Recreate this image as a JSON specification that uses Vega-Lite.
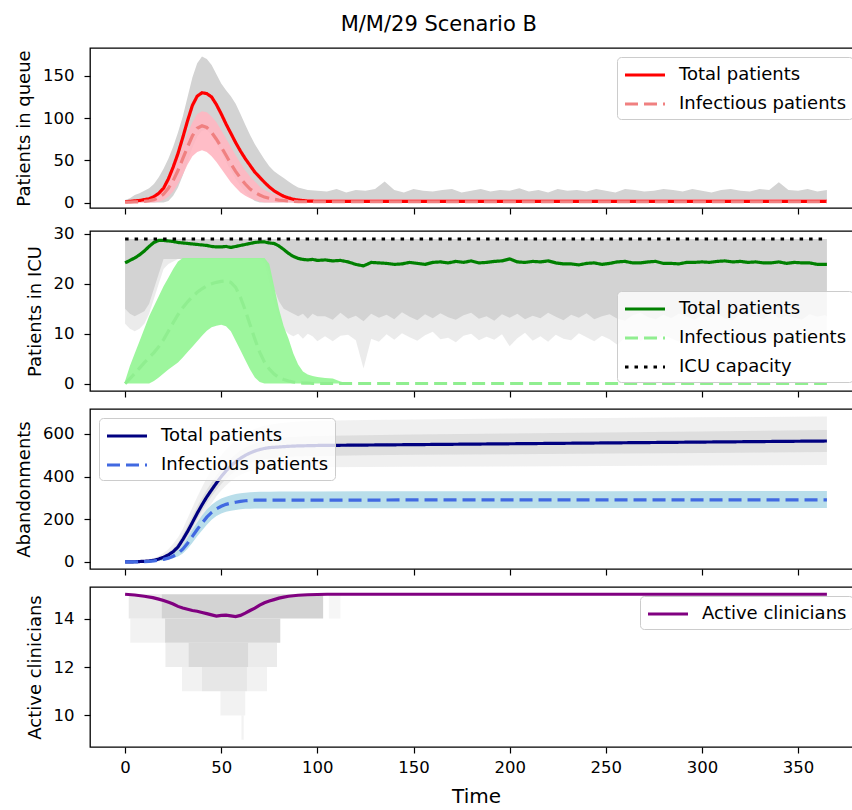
{
  "$schema": "https://vega.github.io/schema/vega-lite/v6.json",
  "padding": {"left": 14, "top": 14, "right": -9, "bottom": 0},
  "title": {"text": "M/M/29 Scenario B", "fontSize": 21, "fontWeight": "normal", "font": "DejaVu Sans", "color": "black", "anchor": "middle", "frame": "bounds", "offset": 12},
  "datasets": {
    "queue": [
      {"t":0,"Total patients":1,"Infectious patients":0.5,"g_lo":0,"g_hi":3,"p_lo":0,"p_hi":2},
      {"t":2.5,"Total patients":1.5,"Infectious patients":0.6,"g_lo":0,"g_hi":5,"p_lo":0,"p_hi":2.5},
      {"t":5,"Total patients":2,"Infectious patients":0.8,"g_lo":0,"g_hi":9,"p_lo":0,"p_hi":3},
      {"t":7.5,"Total patients":2.5,"Infectious patients":1,"g_lo":0,"g_hi":11,"p_lo":0,"p_hi":3.5},
      {"t":10,"Total patients":3.5,"Infectious patients":1.5,"g_lo":0,"g_hi":14,"p_lo":0,"p_hi":4},
      {"t":12.5,"Total patients":4.5,"Infectious patients":2.2,"g_lo":0,"g_hi":17,"p_lo":0,"p_hi":5.5},
      {"t":15,"Total patients":7,"Infectious patients":3.5,"g_lo":0,"g_hi":22,"p_lo":0,"p_hi":7},
      {"t":17.5,"Total patients":11,"Infectious patients":6,"g_lo":0,"g_hi":30,"p_lo":1,"p_hi":12},
      {"t":20,"Total patients":17,"Infectious patients":10,"g_lo":0,"g_hi":40,"p_lo":3,"p_hi":18},
      {"t":22.5,"Total patients":28,"Infectious patients":17,"g_lo":2,"g_hi":52,"p_lo":7,"p_hi":27},
      {"t":25,"Total patients":42,"Infectious patients":26,"g_lo":8,"g_hi":66,"p_lo":13,"p_hi":38},
      {"t":27.5,"Total patients":58,"Infectious patients":38,"g_lo":18,"g_hi":83,"p_lo":22,"p_hi":52},
      {"t":30,"Total patients":77,"Infectious patients":52,"g_lo":32,"g_hi":102,"p_lo":33,"p_hi":67},
      {"t":32.5,"Total patients":97,"Infectious patients":66,"g_lo":48,"g_hi":125,"p_lo":45,"p_hi":82},
      {"t":35,"Total patients":115,"Infectious patients":79,"g_lo":65,"g_hi":148,"p_lo":55,"p_hi":95},
      {"t":37.5,"Total patients":126,"Infectious patients":88,"g_lo":78,"g_hi":165,"p_lo":60,"p_hi":105},
      {"t":40,"Total patients":130,"Infectious patients":91,"g_lo":85,"g_hi":173,"p_lo":62,"p_hi":108},
      {"t":42.5,"Total patients":129,"Infectious patients":89,"g_lo":86,"g_hi":170,"p_lo":60,"p_hi":107},
      {"t":45,"Total patients":125,"Infectious patients":83,"g_lo":80,"g_hi":163,"p_lo":55,"p_hi":102},
      {"t":47.5,"Total patients":116,"Infectious patients":75,"g_lo":70,"g_hi":152,"p_lo":48,"p_hi":95},
      {"t":50,"Total patients":105,"Infectious patients":66,"g_lo":60,"g_hi":141,"p_lo":40,"p_hi":86},
      {"t":52.5,"Total patients":93,"Infectious patients":56,"g_lo":48,"g_hi":133,"p_lo":32,"p_hi":76},
      {"t":55,"Total patients":82,"Infectious patients":46,"g_lo":38,"g_hi":126,"p_lo":24,"p_hi":66},
      {"t":57.5,"Total patients":71,"Infectious patients":37,"g_lo":28,"g_hi":117,"p_lo":18,"p_hi":56},
      {"t":60,"Total patients":61,"Infectious patients":29,"g_lo":20,"g_hi":105,"p_lo":12,"p_hi":47},
      {"t":62.5,"Total patients":52,"Infectious patients":22,"g_lo":12,"g_hi":92,"p_lo":8,"p_hi":38},
      {"t":65,"Total patients":44,"Infectious patients":16,"g_lo":6,"g_hi":80,"p_lo":5,"p_hi":31},
      {"t":67.5,"Total patients":36,"Infectious patients":12,"g_lo":2,"g_hi":69,"p_lo":3,"p_hi":25},
      {"t":70,"Total patients":30,"Infectious patients":9,"g_lo":0,"g_hi":60,"p_lo":1,"p_hi":19},
      {"t":72.5,"Total patients":24,"Infectious patients":6.5,"g_lo":0,"g_hi":51,"p_lo":0,"p_hi":15},
      {"t":75,"Total patients":18.5,"Infectious patients":5,"g_lo":0,"g_hi":43,"p_lo":0,"p_hi":12},
      {"t":77.5,"Total patients":14,"Infectious patients":4,"g_lo":0,"g_hi":37,"p_lo":0,"p_hi":10},
      {"t":80,"Total patients":10.5,"Infectious patients":3,"g_lo":0,"g_hi":33,"p_lo":0,"p_hi":8},
      {"t":82.5,"Total patients":7.5,"Infectious patients":2.5,"g_lo":0,"g_hi":29,"p_lo":0,"p_hi":7},
      {"t":85,"Total patients":5.5,"Infectious patients":2,"g_lo":0,"g_hi":25,"p_lo":0,"p_hi":6},
      {"t":87.5,"Total patients":4,"Infectious patients":1.6,"g_lo":0,"g_hi":21,"p_lo":0,"p_hi":5.5},
      {"t":90,"Total patients":3,"Infectious patients":1.2,"g_lo":0,"g_hi":18,"p_lo":0,"p_hi":5},
      {"t":95,"Total patients":1.8,"Infectious patients":1,"g_lo":0,"g_hi":15,"p_lo":0,"p_hi":4.5},
      {"t":100,"Total patients":1.5,"Infectious patients":1,"g_lo":0,"g_hi":14,"p_lo":0,"p_hi":4},
      {"t":105,"Total patients":1.5,"Infectious patients":1,"g_lo":0,"g_hi":13,"p_lo":0,"p_hi":4},
      {"t":110,"Total patients":1.5,"Infectious patients":1,"g_lo":0,"g_hi":16,"p_lo":0,"p_hi":4},
      {"t":115,"Total patients":1.5,"Infectious patients":1,"g_lo":0,"g_hi":12,"p_lo":0,"p_hi":4},
      {"t":120,"Total patients":1.5,"Infectious patients":1,"g_lo":0,"g_hi":15,"p_lo":0,"p_hi":4},
      {"t":125,"Total patients":1.5,"Infectious patients":1,"g_lo":0,"g_hi":14,"p_lo":0,"p_hi":4},
      {"t":130,"Total patients":1.5,"Infectious patients":1,"g_lo":0,"g_hi":16,"p_lo":0,"p_hi":4},
      {"t":135,"Total patients":1.5,"Infectious patients":1,"g_lo":0,"g_hi":25,"p_lo":0,"p_hi":4},
      {"t":140,"Total patients":1.5,"Infectious patients":1,"g_lo":0,"g_hi":15,"p_lo":0,"p_hi":4},
      {"t":145,"Total patients":1.5,"Infectious patients":1,"g_lo":0,"g_hi":12,"p_lo":0,"p_hi":4},
      {"t":150,"Total patients":1.5,"Infectious patients":1,"g_lo":0,"g_hi":16,"p_lo":0,"p_hi":4},
      {"t":155,"Total patients":1.5,"Infectious patients":1,"g_lo":0,"g_hi":14,"p_lo":0,"p_hi":4},
      {"t":160,"Total patients":1.5,"Infectious patients":1,"g_lo":0,"g_hi":13,"p_lo":0,"p_hi":4},
      {"t":165,"Total patients":1.5,"Infectious patients":1,"g_lo":0,"g_hi":15,"p_lo":0,"p_hi":4},
      {"t":170,"Total patients":1.5,"Infectious patients":1,"g_lo":0,"g_hi":16,"p_lo":0,"p_hi":4},
      {"t":175,"Total patients":1.5,"Infectious patients":1,"g_lo":0,"g_hi":12,"p_lo":0,"p_hi":4},
      {"t":180,"Total patients":1.5,"Infectious patients":1,"g_lo":0,"g_hi":14,"p_lo":0,"p_hi":4},
      {"t":185,"Total patients":1.5,"Infectious patients":1,"g_lo":0,"g_hi":16,"p_lo":0,"p_hi":4},
      {"t":190,"Total patients":1.5,"Infectious patients":1,"g_lo":0,"g_hi":13,"p_lo":0,"p_hi":4},
      {"t":195,"Total patients":1.5,"Infectious patients":1,"g_lo":0,"g_hi":15,"p_lo":0,"p_hi":4},
      {"t":200,"Total patients":1.5,"Infectious patients":1,"g_lo":0,"g_hi":14,"p_lo":0,"p_hi":4},
      {"t":205,"Total patients":1.5,"Infectious patients":1,"g_lo":0,"g_hi":17,"p_lo":0,"p_hi":4},
      {"t":210,"Total patients":1.5,"Infectious patients":1,"g_lo":0,"g_hi":13,"p_lo":0,"p_hi":4},
      {"t":215,"Total patients":1.5,"Infectious patients":1,"g_lo":0,"g_hi":15,"p_lo":0,"p_hi":4},
      {"t":220,"Total patients":1.5,"Infectious patients":1,"g_lo":0,"g_hi":12,"p_lo":0,"p_hi":4},
      {"t":225,"Total patients":1.5,"Infectious patients":1,"g_lo":0,"g_hi":16,"p_lo":0,"p_hi":4},
      {"t":230,"Total patients":1.5,"Infectious patients":1,"g_lo":0,"g_hi":14,"p_lo":0,"p_hi":4},
      {"t":235,"Total patients":1.5,"Infectious patients":1,"g_lo":0,"g_hi":15,"p_lo":0,"p_hi":4},
      {"t":240,"Total patients":1.5,"Infectious patients":1,"g_lo":0,"g_hi":13,"p_lo":0,"p_hi":4},
      {"t":245,"Total patients":1.5,"Infectious patients":1,"g_lo":0,"g_hi":16,"p_lo":0,"p_hi":4},
      {"t":250,"Total patients":1.5,"Infectious patients":1,"g_lo":0,"g_hi":14,"p_lo":0,"p_hi":4},
      {"t":255,"Total patients":1.5,"Infectious patients":1,"g_lo":0,"g_hi":12,"p_lo":0,"p_hi":4},
      {"t":260,"Total patients":1.5,"Infectious patients":1,"g_lo":0,"g_hi":16,"p_lo":0,"p_hi":4},
      {"t":265,"Total patients":1.5,"Infectious patients":1,"g_lo":0,"g_hi":15,"p_lo":0,"p_hi":4},
      {"t":270,"Total patients":1.5,"Infectious patients":1,"g_lo":0,"g_hi":13,"p_lo":0,"p_hi":4},
      {"t":275,"Total patients":1.5,"Infectious patients":1,"g_lo":0,"g_hi":14,"p_lo":0,"p_hi":4},
      {"t":280,"Total patients":1.5,"Infectious patients":1,"g_lo":0,"g_hi":16,"p_lo":0,"p_hi":4},
      {"t":285,"Total patients":1.5,"Infectious patients":1,"g_lo":0,"g_hi":15,"p_lo":0,"p_hi":4},
      {"t":290,"Total patients":1.5,"Infectious patients":1,"g_lo":0,"g_hi":13,"p_lo":0,"p_hi":4},
      {"t":295,"Total patients":1.5,"Infectious patients":1,"g_lo":0,"g_hi":16,"p_lo":0,"p_hi":4},
      {"t":300,"Total patients":1.5,"Infectious patients":1,"g_lo":0,"g_hi":14,"p_lo":0,"p_hi":4},
      {"t":305,"Total patients":1.5,"Infectious patients":1,"g_lo":0,"g_hi":12,"p_lo":0,"p_hi":4},
      {"t":310,"Total patients":1.5,"Infectious patients":1,"g_lo":0,"g_hi":15,"p_lo":0,"p_hi":4},
      {"t":315,"Total patients":1.5,"Infectious patients":1,"g_lo":0,"g_hi":16,"p_lo":0,"p_hi":4},
      {"t":320,"Total patients":1.5,"Infectious patients":1,"g_lo":0,"g_hi":14,"p_lo":0,"p_hi":4},
      {"t":325,"Total patients":1.5,"Infectious patients":1,"g_lo":0,"g_hi":13,"p_lo":0,"p_hi":4},
      {"t":330,"Total patients":1.5,"Infectious patients":1,"g_lo":0,"g_hi":16,"p_lo":0,"p_hi":4},
      {"t":335,"Total patients":1.5,"Infectious patients":1,"g_lo":0,"g_hi":15,"p_lo":0,"p_hi":4},
      {"t":340,"Total patients":1.5,"Infectious patients":1,"g_lo":0,"g_hi":24,"p_lo":0,"p_hi":4},
      {"t":345,"Total patients":1.5,"Infectious patients":1,"g_lo":0,"g_hi":15,"p_lo":0,"p_hi":4},
      {"t":350,"Total patients":1.5,"Infectious patients":1,"g_lo":0,"g_hi":14,"p_lo":0,"p_hi":4},
      {"t":355,"Total patients":1.5,"Infectious patients":1,"g_lo":0,"g_hi":16,"p_lo":0,"p_hi":4},
      {"t":360,"Total patients":1.5,"Infectious patients":1,"g_lo":0,"g_hi":13,"p_lo":0,"p_hi":4},
      {"t":365,"Total patients":1.5,"Infectious patients":1,"g_lo":0,"g_hi":15,"p_lo":0,"p_hi":4}
    ],
    "icu": [
      {"t":0,"Total patients":24.2,"Infectious patients":0,"ICU capacity":29,"g_lo":15,"g_lo2":12,"c_lo":0,"c_hi":0.5},
      {"t":2.5,"Total patients":24.7,"Infectious patients":1,"ICU capacity":29,"g_lo":14,"g_lo2":11,"c_lo":0,"c_hi":3.5},
      {"t":5,"Total patients":25.2,"Infectious patients":2,"ICU capacity":29,"g_lo":13.5,"g_lo2":10.5,"c_lo":0,"c_hi":6},
      {"t":7.5,"Total patients":25.8,"Infectious patients":3.1,"ICU capacity":29,"g_lo":14,"g_lo2":11,"c_lo":0,"c_hi":8.5},
      {"t":10,"Total patients":26.6,"Infectious patients":4.2,"ICU capacity":29,"g_lo":14.5,"g_lo2":12,"c_lo":0,"c_hi":11},
      {"t":12.5,"Total patients":27.5,"Infectious patients":5.2,"ICU capacity":29,"g_lo":16,"g_lo2":14,"c_lo":0,"c_hi":13.5},
      {"t":15,"Total patients":28.3,"Infectious patients":6.2,"ICU capacity":29,"g_lo":19,"g_lo2":17,"c_lo":0.5,"c_hi":15.5},
      {"t":17.5,"Total patients":28.7,"Infectious patients":7.4,"ICU capacity":29,"g_lo":22,"g_lo2":20,"c_lo":1.2,"c_hi":17.5},
      {"t":20,"Total patients":28.7,"Infectious patients":8.8,"ICU capacity":29,"g_lo":25,"g_lo2":23,"c_lo":2,"c_hi":19.5},
      {"t":22.5,"Total patients":28.6,"Infectious patients":10.5,"ICU capacity":29,"g_lo":25,"g_lo2":24,"c_lo":2.8,"c_hi":21.2},
      {"t":25,"Total patients":28.5,"Infectious patients":12.2,"ICU capacity":29,"g_lo":25,"g_lo2":24.5,"c_lo":3.5,"c_hi":23},
      {"t":27.5,"Total patients":28.3,"Infectious patients":13.8,"ICU capacity":29,"g_lo":25,"g_lo2":25,"c_lo":4.2,"c_hi":24.5},
      {"t":30,"Total patients":28.2,"Infectious patients":15.2,"ICU capacity":29,"g_lo":25,"g_lo2":25,"c_lo":5.2,"c_hi":25.2},
      {"t":32.5,"Total patients":28.1,"Infectious patients":16.4,"ICU capacity":29,"g_lo":25,"g_lo2":25,"c_lo":6.3,"c_hi":25.2},
      {"t":35,"Total patients":28.0,"Infectious patients":17.4,"ICU capacity":29,"g_lo":25,"g_lo2":25,"c_lo":7.4,"c_hi":25.2},
      {"t":37.5,"Total patients":27.9,"Infectious patients":18.3,"ICU capacity":29,"g_lo":25,"g_lo2":25,"c_lo":8.5,"c_hi":25.2},
      {"t":40,"Total patients":27.8,"Infectious patients":19.0,"ICU capacity":29,"g_lo":25,"g_lo2":25,"c_lo":9.6,"c_hi":25.2},
      {"t":42.5,"Total patients":27.7,"Infectious patients":19.6,"ICU capacity":29,"g_lo":25,"g_lo2":25,"c_lo":10.6,"c_hi":25.2},
      {"t":45,"Total patients":27.5,"Infectious patients":20.0,"ICU capacity":29,"g_lo":25,"g_lo2":25,"c_lo":11.3,"c_hi":25.2},
      {"t":47.5,"Total patients":27.4,"Infectious patients":20.3,"ICU capacity":29,"g_lo":25,"g_lo2":25,"c_lo":11.6,"c_hi":25.2},
      {"t":50,"Total patients":27.4,"Infectious patients":20.5,"ICU capacity":29,"g_lo":25,"g_lo2":25,"c_lo":11.8,"c_hi":25.2},
      {"t":52.5,"Total patients":27.5,"Infectious patients":20.6,"ICU capacity":29,"g_lo":25,"g_lo2":25,"c_lo":11.5,"c_hi":25.2},
      {"t":55,"Total patients":27.3,"Infectious patients":20.3,"ICU capacity":29,"g_lo":25,"g_lo2":25,"c_lo":10.5,"c_hi":25.2},
      {"t":57.5,"Total patients":27.5,"Infectious patients":19.3,"ICU capacity":29,"g_lo":25,"g_lo2":25,"c_lo":8.6,"c_hi":25.2},
      {"t":60,"Total patients":27.7,"Infectious patients":17.3,"ICU capacity":29,"g_lo":25,"g_lo2":25,"c_lo":6.7,"c_hi":25.2},
      {"t":62.5,"Total patients":27.9,"Infectious patients":14.7,"ICU capacity":29,"g_lo":25,"g_lo2":25,"c_lo":4.7,"c_hi":25.2},
      {"t":65,"Total patients":28.1,"Infectious patients":11.8,"ICU capacity":29,"g_lo":25,"g_lo2":25,"c_lo":2.8,"c_hi":25.2},
      {"t":67.5,"Total patients":28.3,"Infectious patients":8.9,"ICU capacity":29,"g_lo":25,"g_lo2":25,"c_lo":1.2,"c_hi":25.2},
      {"t":70,"Total patients":28.4,"Infectious patients":6.3,"ICU capacity":29,"g_lo":25,"g_lo2":25,"c_lo":0.3,"c_hi":25.2},
      {"t":72.5,"Total patients":28.4,"Infectious patients":4.3,"ICU capacity":29,"g_lo":25,"g_lo2":24,"c_lo":0,"c_hi":25.2},
      {"t":75,"Total patients":28.2,"Infectious patients":2.9,"ICU capacity":29,"g_lo":22,"g_lo2":20,"c_lo":0,"c_hi":24},
      {"t":77.5,"Total patients":28.1,"Infectious patients":1.9,"ICU capacity":29,"g_lo":19,"g_lo2":16,"c_lo":0,"c_hi":19.5},
      {"t":80,"Total patients":27.6,"Infectious patients":1.2,"ICU capacity":29,"g_lo":16.5,"g_lo2":13,"c_lo":0,"c_hi":15},
      {"t":82.5,"Total patients":26.9,"Infectious patients":0.8,"ICU capacity":29,"g_lo":15,"g_lo2":11,"c_lo":0,"c_hi":11.5},
      {"t":85,"Total patients":26.1,"Infectious patients":0.5,"ICU capacity":29,"g_lo":14.5,"g_lo2":10,"c_lo":0,"c_hi":9},
      {"t":87.5,"Total patients":25.5,"Infectious patients":0.3,"ICU capacity":29,"g_lo":14,"g_lo2":9.5,"c_lo":0,"c_hi":6},
      {"t":90,"Total patients":25.1,"Infectious patients":0.2,"ICU capacity":29,"g_lo":13.5,"g_lo2":10,"c_lo":0,"c_hi":3.8},
      {"t":92.5,"Total patients":24.9,"Infectious patients":0.1,"ICU capacity":29,"g_lo":14,"g_lo2":9,"c_lo":0,"c_hi":2.4},
      {"t":95,"Total patients":24.8,"Infectious patients":0.1,"ICU capacity":29,"g_lo":13,"g_lo2":10,"c_lo":0,"c_hi":1.8},
      {"t":97.5,"Total patients":24.9,"Infectious patients":0,"ICU capacity":29,"g_lo":14,"g_lo2":9.5,"c_lo":0,"c_hi":1.5},
      {"t":100,"Total patients":24.7,"Infectious patients":0,"ICU capacity":29,"g_lo":13.5,"g_lo2":8.5,"c_lo":0,"c_hi":1.3},
      {"t":104,"Total patients":24.8,"Infectious patients":0,"ICU capacity":29,"g_lo":13.5,"g_lo2":9.5,"c_lo":0,"c_hi":1.1},
      {"t":108,"Total patients":24.6,"Infectious patients":0,"ICU capacity":29,"g_lo":12.8,"g_lo2":8.5,"c_lo":0,"c_hi":1.0},
      {"t":112,"Total patients":24.7,"Infectious patients":0,"ICU capacity":29,"g_lo":14.2,"g_lo2":9.6,"c_lo":0,"c_hi":0.4},
      {"t":116,"Total patients":24.4,"Infectious patients":0,"ICU capacity":29,"g_lo":13.0,"g_lo2":9.8,"c_lo":0,"c_hi":0},
      {"t":120,"Total patients":23.9,"Infectious patients":0,"ICU capacity":29,"g_lo":13.6,"g_lo2":8.7,"c_lo":0,"c_hi":0},
      {"t":124,"Total patients":23.6,"Infectious patients":0,"ICU capacity":29,"g_lo":12.5,"g_lo2":3,"c_lo":0,"c_hi":0},
      {"t":128,"Total patients":24.3,"Infectious patients":0,"ICU capacity":29,"g_lo":14.0,"g_lo2":9.0,"c_lo":0,"c_hi":0},
      {"t":132,"Total patients":24.2,"Infectious patients":0,"ICU capacity":29,"g_lo":13.2,"g_lo2":8.4,"c_lo":0,"c_hi":0},
      {"t":136,"Total patients":24.1,"Infectious patients":0,"ICU capacity":29,"g_lo":13.8,"g_lo2":9.9,"c_lo":0,"c_hi":0},
      {"t":140,"Total patients":23.9,"Infectious patients":0,"ICU capacity":29,"g_lo":12.9,"g_lo2":8.8,"c_lo":0,"c_hi":0},
      {"t":144,"Total patients":24.0,"Infectious patients":0,"ICU capacity":29,"g_lo":14.3,"g_lo2":10.1,"c_lo":0,"c_hi":0},
      {"t":148,"Total patients":24.3,"Infectious patients":0,"ICU capacity":29,"g_lo":13.4,"g_lo2":9.3,"c_lo":0,"c_hi":0},
      {"t":152,"Total patients":24.1,"Infectious patients":0,"ICU capacity":29,"g_lo":12.7,"g_lo2":8.6,"c_lo":0,"c_hi":0},
      {"t":156,"Total patients":23.9,"Infectious patients":0,"ICU capacity":29,"g_lo":13.9,"g_lo2":9.7,"c_lo":0,"c_hi":0},
      {"t":160,"Total patients":24.3,"Infectious patients":0,"ICU capacity":29,"g_lo":13.1,"g_lo2":10.4,"c_lo":0,"c_hi":0},
      {"t":164,"Total patients":24.4,"Infectious patients":0,"ICU capacity":29,"g_lo":14.1,"g_lo2":8.9,"c_lo":0,"c_hi":0},
      {"t":168,"Total patients":24.2,"Infectious patients":0,"ICU capacity":29,"g_lo":13.3,"g_lo2":9.2,"c_lo":0,"c_hi":0},
      {"t":172,"Total patients":24.5,"Infectious patients":0,"ICU capacity":29,"g_lo":12.8,"g_lo2":8.3,"c_lo":0,"c_hi":0},
      {"t":176,"Total patients":24.3,"Infectious patients":0,"ICU capacity":29,"g_lo":13.7,"g_lo2":9.6,"c_lo":0,"c_hi":0},
      {"t":180,"Total patients":24.6,"Infectious patients":0,"ICU capacity":29,"g_lo":14.2,"g_lo2":10.0,"c_lo":0,"c_hi":0},
      {"t":184,"Total patients":24.2,"Infectious patients":0,"ICU capacity":29,"g_lo":13.0,"g_lo2":8.7,"c_lo":0,"c_hi":0},
      {"t":188,"Total patients":24.3,"Infectious patients":0,"ICU capacity":29,"g_lo":13.5,"g_lo2":9.4,"c_lo":0,"c_hi":0},
      {"t":192,"Total patients":24.5,"Infectious patients":0,"ICU capacity":29,"g_lo":12.6,"g_lo2":8.8,"c_lo":0,"c_hi":0},
      {"t":196,"Total patients":24.6,"Infectious patients":0,"ICU capacity":29,"g_lo":13.9,"g_lo2":9.9,"c_lo":0,"c_hi":0},
      {"t":200,"Total patients":25.0,"Infectious patients":0,"ICU capacity":29,"g_lo":13.2,"g_lo2":7.5,"c_lo":0,"c_hi":0},
      {"t":204,"Total patients":24.4,"Infectious patients":0,"ICU capacity":29,"g_lo":14.0,"g_lo2":9.1,"c_lo":0,"c_hi":0},
      {"t":208,"Total patients":24.3,"Infectious patients":0,"ICU capacity":29,"g_lo":12.9,"g_lo2":10.2,"c_lo":0,"c_hi":0},
      {"t":212,"Total patients":24.5,"Infectious patients":0,"ICU capacity":29,"g_lo":13.6,"g_lo2":8.6,"c_lo":0,"c_hi":0},
      {"t":216,"Total patients":24.4,"Infectious patients":0,"ICU capacity":29,"g_lo":13.1,"g_lo2":9.5,"c_lo":0,"c_hi":0},
      {"t":220,"Total patients":24.6,"Infectious patients":0,"ICU capacity":29,"g_lo":14.2,"g_lo2":8.4,"c_lo":0,"c_hi":0},
      {"t":224,"Total patients":24.2,"Infectious patients":0,"ICU capacity":29,"g_lo":13.4,"g_lo2":9.8,"c_lo":0,"c_hi":0},
      {"t":228,"Total patients":24.0,"Infectious patients":0,"ICU capacity":29,"g_lo":12.7,"g_lo2":9.0,"c_lo":0,"c_hi":0},
      {"t":232,"Total patients":24.0,"Infectious patients":0,"ICU capacity":29,"g_lo":13.8,"g_lo2":8.7,"c_lo":0,"c_hi":0},
      {"t":236,"Total patients":23.8,"Infectious patients":0,"ICU capacity":29,"g_lo":13.2,"g_lo2":10.1,"c_lo":0,"c_hi":0},
      {"t":240,"Total patients":24.1,"Infectious patients":0,"ICU capacity":29,"g_lo":14.1,"g_lo2":9.3,"c_lo":0,"c_hi":0},
      {"t":244,"Total patients":24.2,"Infectious patients":0,"ICU capacity":29,"g_lo":12.9,"g_lo2":8.5,"c_lo":0,"c_hi":0},
      {"t":248,"Total patients":23.9,"Infectious patients":0,"ICU capacity":29,"g_lo":13.5,"g_lo2":9.6,"c_lo":0,"c_hi":0},
      {"t":252,"Total patients":24.1,"Infectious patients":0,"ICU capacity":29,"g_lo":13.9,"g_lo2":8.9,"c_lo":0,"c_hi":0},
      {"t":256,"Total patients":24.4,"Infectious patients":0,"ICU capacity":29,"g_lo":13.0,"g_lo2":7.8,"c_lo":0,"c_hi":0},
      {"t":260,"Total patients":24.5,"Infectious patients":0,"ICU capacity":29,"g_lo":12.6,"g_lo2":9.2,"c_lo":0,"c_hi":0},
      {"t":264,"Total patients":24.2,"Infectious patients":0,"ICU capacity":29,"g_lo":13.7,"g_lo2":10.0,"c_lo":0,"c_hi":0},
      {"t":268,"Total patients":24.2,"Infectious patients":0,"ICU capacity":29,"g_lo":14.2,"g_lo2":8.6,"c_lo":0,"c_hi":0},
      {"t":272,"Total patients":24.4,"Infectious patients":0,"ICU capacity":29,"g_lo":13.3,"g_lo2":9.4,"c_lo":0,"c_hi":0},
      {"t":276,"Total patients":24.5,"Infectious patients":0,"ICU capacity":29,"g_lo":12.9,"g_lo2":8.8,"c_lo":0,"c_hi":0},
      {"t":280,"Total patients":24.1,"Infectious patients":0,"ICU capacity":29,"g_lo":13.8,"g_lo2":9.7,"c_lo":0,"c_hi":0},
      {"t":284,"Total patients":24.1,"Infectious patients":0,"ICU capacity":29,"g_lo":13.1,"g_lo2":9.1,"c_lo":0,"c_hi":0},
      {"t":288,"Total patients":24.0,"Infectious patients":0,"ICU capacity":29,"g_lo":14.0,"g_lo2":8.4,"c_lo":0,"c_hi":0},
      {"t":292,"Total patients":24.3,"Infectious patients":0,"ICU capacity":29,"g_lo":13.4,"g_lo2":9.9,"c_lo":0,"c_hi":0},
      {"t":296,"Total patients":24.3,"Infectious patients":0,"ICU capacity":29,"g_lo":12.8,"g_lo2":8.7,"c_lo":0,"c_hi":0},
      {"t":300,"Total patients":24.4,"Infectious patients":0,"ICU capacity":29,"g_lo":13.6,"g_lo2":9.3,"c_lo":0,"c_hi":0},
      {"t":304,"Total patients":24.3,"Infectious patients":0,"ICU capacity":29,"g_lo":13.2,"g_lo2":10.1,"c_lo":0,"c_hi":0},
      {"t":308,"Total patients":24.5,"Infectious patients":0,"ICU capacity":29,"g_lo":14.1,"g_lo2":8.9,"c_lo":0,"c_hi":0},
      {"t":312,"Total patients":24.6,"Infectious patients":0,"ICU capacity":29,"g_lo":13.0,"g_lo2":9.5,"c_lo":0,"c_hi":0},
      {"t":316,"Total patients":24.4,"Infectious patients":0,"ICU capacity":29,"g_lo":12.7,"g_lo2":8.6,"c_lo":0,"c_hi":0},
      {"t":320,"Total patients":24.5,"Infectious patients":0,"ICU capacity":29,"g_lo":13.9,"g_lo2":9.2,"c_lo":0,"c_hi":0},
      {"t":324,"Total patients":24.3,"Infectious patients":0,"ICU capacity":29,"g_lo":13.3,"g_lo2":9.8,"c_lo":0,"c_hi":0},
      {"t":328,"Total patients":24.4,"Infectious patients":0,"ICU capacity":29,"g_lo":13.5,"g_lo2":8.5,"c_lo":0,"c_hi":0},
      {"t":332,"Total patients":24.2,"Infectious patients":0,"ICU capacity":29,"g_lo":12.9,"g_lo2":9.4,"c_lo":0,"c_hi":0},
      {"t":336,"Total patients":24.2,"Infectious patients":0,"ICU capacity":29,"g_lo":14.2,"g_lo2":9.0,"c_lo":0,"c_hi":0},
      {"t":340,"Total patients":24.4,"Infectious patients":0,"ICU capacity":29,"g_lo":13.1,"g_lo2":8.8,"c_lo":0,"c_hi":0},
      {"t":344,"Total patients":24.1,"Infectious patients":0,"ICU capacity":29,"g_lo":13.6,"g_lo2":9.6,"c_lo":0,"c_hi":0},
      {"t":348,"Total patients":24.3,"Infectious patients":0,"ICU capacity":29,"g_lo":13.2,"g_lo2":9.1,"c_lo":0,"c_hi":0},
      {"t":352,"Total patients":24.2,"Infectious patients":0,"ICU capacity":29,"g_lo":12.8,"g_lo2":8.7,"c_lo":0,"c_hi":0},
      {"t":356,"Total patients":24.2,"Infectious patients":0,"ICU capacity":29,"g_lo":13.9,"g_lo2":9.3,"c_lo":0,"c_hi":0},
      {"t":360,"Total patients":23.9,"Infectious patients":0,"ICU capacity":29,"g_lo":13.4,"g_lo2":9.9,"c_lo":0,"c_hi":0},
      {"t":364,"Total patients":23.9,"Infectious patients":0,"ICU capacity":29,"g_lo":13.7,"g_lo2":9.0,"c_lo":0,"c_hi":0},
      {"t":365,"Total patients":23.9,"Infectious patients":0,"ICU capacity":29,"g_lo":13.5,"g_lo2":9.4,"c_lo":0,"c_hi":0}
    ],
    "aband": [
      {"t":0,"Total patients":0,"Infectious patients":0,"b_lo":0,"b_hi":0,"go_lo":0,"go_hi":0,"gi_lo":0,"gi_hi":0},
      {"t":2.5,"Total patients":0.3,"Infectious patients":0.1,"b_lo":0,"b_hi":1,"go_lo":0,"go_hi":2,"gi_lo":0,"gi_hi":1},
      {"t":5,"Total patients":1,"Infectious patients":0.5,"b_lo":0,"b_hi":2,"go_lo":0,"go_hi":4,"gi_lo":0,"gi_hi":2},
      {"t":7.5,"Total patients":2,"Infectious patients":1,"b_lo":0,"b_hi":3,"go_lo":0,"go_hi":6,"gi_lo":0.5,"gi_hi":3},
      {"t":10,"Total patients":3,"Infectious patients":2,"b_lo":0.5,"b_hi":4,"go_lo":0,"go_hi":9,"gi_lo":1,"gi_hi":5},
      {"t":12.5,"Total patients":5,"Infectious patients":3,"b_lo":1,"b_hi":6,"go_lo":0.5,"go_hi":13,"gi_lo":2,"gi_hi":8},
      {"t":15,"Total patients":8,"Infectious patients":5,"b_lo":2,"b_hi":9,"go_lo":1,"go_hi":19,"gi_lo":4,"gi_hi":12},
      {"t":17.5,"Total patients":14,"Infectious patients":8,"b_lo":4,"b_hi":13,"go_lo":3,"go_hi":28,"gi_lo":8,"gi_hi":20},
      {"t":20,"Total patients":22,"Infectious patients":12,"b_lo":7,"b_hi":18,"go_lo":7,"go_hi":42,"gi_lo":14,"gi_hi":31},
      {"t":22.5,"Total patients":33,"Infectious patients":18,"b_lo":11,"b_hi":26,"go_lo":13,"go_hi":60,"gi_lo":22,"gi_hi":45},
      {"t":25,"Total patients":48,"Infectious patients":27,"b_lo":17,"b_hi":38,"go_lo":22,"go_hi":85,"gi_lo":34,"gi_hi":63},
      {"t":27.5,"Total patients":70,"Infectious patients":40,"b_lo":26,"b_hi":55,"go_lo":35,"go_hi":115,"gi_lo":52,"gi_hi":89},
      {"t":30,"Total patients":105,"Infectious patients":60,"b_lo":40,"b_hi":80,"go_lo":55,"go_hi":155,"gi_lo":82,"gi_hi":128},
      {"t":32.5,"Total patients":143,"Infectious patients":88,"b_lo":62,"b_hi":114,"go_lo":85,"go_hi":205,"gi_lo":118,"gi_hi":170},
      {"t":35,"Total patients":185,"Infectious patients":120,"b_lo":90,"b_hi":152,"go_lo":120,"go_hi":255,"gi_lo":158,"gi_hi":215},
      {"t":37.5,"Total patients":228,"Infectious patients":152,"b_lo":120,"b_hi":186,"go_lo":160,"go_hi":305,"gi_lo":200,"gi_hi":260},
      {"t":40,"Total patients":268,"Infectious patients":182,"b_lo":148,"b_hi":218,"go_lo":200,"go_hi":350,"gi_lo":240,"gi_hi":300},
      {"t":42.5,"Total patients":305,"Infectious patients":210,"b_lo":175,"b_hi":246,"go_lo":240,"go_hi":395,"gi_lo":275,"gi_hi":338},
      {"t":45,"Total patients":338,"Infectious patients":232,"b_lo":198,"b_hi":268,"go_lo":275,"go_hi":435,"gi_lo":308,"gi_hi":372},
      {"t":47.5,"Total patients":370,"Infectious patients":249,"b_lo":215,"b_hi":285,"go_lo":308,"go_hi":470,"gi_lo":338,"gi_hi":405},
      {"t":50,"Total patients":400,"Infectious patients":261,"b_lo":227,"b_hi":297,"go_lo":335,"go_hi":500,"gi_lo":365,"gi_hi":435},
      {"t":52.5,"Total patients":427,"Infectious patients":270,"b_lo":235,"b_hi":306,"go_lo":358,"go_hi":527,"gi_lo":390,"gi_hi":462},
      {"t":55,"Total patients":450,"Infectious patients":276,"b_lo":240,"b_hi":313,"go_lo":378,"go_hi":550,"gi_lo":410,"gi_hi":485},
      {"t":57.5,"Total patients":470,"Infectious patients":280,"b_lo":244,"b_hi":318,"go_lo":395,"go_hi":570,"gi_lo":428,"gi_hi":505},
      {"t":60,"Total patients":486,"Infectious patients":284,"b_lo":247,"b_hi":322,"go_lo":408,"go_hi":588,"gi_lo":443,"gi_hi":522},
      {"t":62.5,"Total patients":500,"Infectious patients":287,"b_lo":249,"b_hi":325,"go_lo":418,"go_hi":602,"gi_lo":455,"gi_hi":535},
      {"t":65,"Total patients":511,"Infectious patients":289,"b_lo":250,"b_hi":327,"go_lo":425,"go_hi":614,"gi_lo":465,"gi_hi":546},
      {"t":67.5,"Total patients":520,"Infectious patients":289.5,"b_lo":251,"b_hi":328,"go_lo":430,"go_hi":624,"gi_lo":472,"gi_hi":555},
      {"t":70,"Total patients":527,"Infectious patients":290,"b_lo":251,"b_hi":329,"go_lo":434,"go_hi":632,"gi_lo":478,"gi_hi":562},
      {"t":72.5,"Total patients":532,"Infectious patients":290,"b_lo":251,"b_hi":329,"go_lo":437,"go_hi":638,"gi_lo":482,"gi_hi":568},
      {"t":75,"Total patients":536,"Infectious patients":290,"b_lo":251,"b_hi":329,"go_lo":439,"go_hi":643,"gi_lo":485,"gi_hi":573},
      {"t":80,"Total patients":539,"Infectious patients":290,"b_lo":251,"b_hi":330,"go_lo":441,"go_hi":650,"gi_lo":490,"gi_hi":580},
      {"t":85,"Total patients":542,"Infectious patients":290,"b_lo":251,"b_hi":330,"go_lo":442,"go_hi":655,"gi_lo":493,"gi_hi":584},
      {"t":90,"Total patients":544,"Infectious patients":290,"b_lo":251,"b_hi":330,"go_lo":443,"go_hi":658,"gi_lo":495,"gi_hi":587},
      {"t":100,"Total patients":546,"Infectious patients":290,"b_lo":252,"b_hi":330,"go_lo":444,"go_hi":662,"gi_lo":497,"gi_hi":591},
      {"t":125,"Total patients":548,"Infectious patients":290,"b_lo":252,"b_hi":331,"go_lo":445,"go_hi":666,"gi_lo":500,"gi_hi":594},
      {"t":150,"Total patients":550,"Infectious patients":291,"b_lo":252,"b_hi":331,"go_lo":446,"go_hi":668,"gi_lo":502,"gi_hi":597},
      {"t":200,"Total patients":554,"Infectious patients":291,"b_lo":252,"b_hi":332,"go_lo":448,"go_hi":672,"gi_lo":505,"gi_hi":602},
      {"t":250,"Total patients":558,"Infectious patients":291,"b_lo":253,"b_hi":332,"go_lo":450,"go_hi":675,"gi_lo":508,"gi_hi":607},
      {"t":300,"Total patients":562,"Infectious patients":291,"b_lo":253,"b_hi":333,"go_lo":452,"go_hi":678,"gi_lo":511,"gi_hi":612},
      {"t":365,"Total patients":567,"Infectious patients":291,"b_lo":253,"b_hi":333,"go_lo":455,"go_hi":682,"gi_lo":515,"gi_hi":618}
    ],
    "clin": [
      {"t":0,"Active clinicians":15},
      {"t":5,"Active clinicians":14.97},
      {"t":10,"Active clinicians":14.92},
      {"t":14.4,"Active clinicians":14.86},
      {"t":17.5,"Active clinicians":14.8},
      {"t":20,"Active clinicians":14.74},
      {"t":23,"Active clinicians":14.66},
      {"t":25,"Active clinicians":14.6},
      {"t":27.5,"Active clinicians":14.5},
      {"t":30,"Active clinicians":14.43},
      {"t":32.5,"Active clinicians":14.38},
      {"t":35,"Active clinicians":14.33},
      {"t":37.5,"Active clinicians":14.3},
      {"t":40,"Active clinicians":14.25},
      {"t":42.5,"Active clinicians":14.2},
      {"t":45,"Active clinicians":14.15},
      {"t":47.5,"Active clinicians":14.1},
      {"t":50,"Active clinicians":14.13},
      {"t":52.5,"Active clinicians":14.14},
      {"t":55,"Active clinicians":14.11},
      {"t":57.5,"Active clinicians":14.08},
      {"t":60,"Active clinicians":14.13},
      {"t":62.5,"Active clinicians":14.22},
      {"t":65,"Active clinicians":14.33},
      {"t":67.5,"Active clinicians":14.43},
      {"t":70,"Active clinicians":14.55},
      {"t":72.5,"Active clinicians":14.65},
      {"t":75,"Active clinicians":14.72},
      {"t":77.5,"Active clinicians":14.78},
      {"t":80,"Active clinicians":14.84},
      {"t":82.5,"Active clinicians":14.88},
      {"t":85,"Active clinicians":14.92},
      {"t":87.5,"Active clinicians":14.94},
      {"t":90,"Active clinicians":14.96},
      {"t":95,"Active clinicians":14.98},
      {"t":100,"Active clinicians":14.99},
      {"t":105,"Active clinicians":15},
      {"t":365,"Active clinicians":15}
    ],
    "clinrect": [
      {"t0":1.9,"t1":19,"lo":14,"hi":15,"share":0.5},
      {"t0":19,"t1":103,"lo":14,"hi":15,"share":1},
      {"t0":106,"t1":112,"lo":14,"hi":15,"share":0.2},
      {"t0":2.7,"t1":20.8,"lo":13,"hi":14,"share":0.3},
      {"t0":20.8,"t1":80.7,"lo":13,"hi":14,"share":0.9},
      {"t0":21,"t1":33,"lo":12,"hi":13,"share":0.4},
      {"t0":33,"t1":64,"lo":12,"hi":13,"share":0.85},
      {"t0":64,"t1":79,"lo":12,"hi":13,"share":0.45},
      {"t0":29.6,"t1":40,"lo":11,"hi":12,"share":0.3},
      {"t0":40,"t1":63.4,"lo":11,"hi":12,"share":0.55},
      {"t0":63.4,"t1":73.8,"lo":11,"hi":12,"share":0.3},
      {"t0":49.6,"t1":62.5,"lo":10,"hi":11,"share":0.3},
      {"t0":60.5,"t1":61.7,"lo":9,"hi":10,"share":0.3}
    ]
  },
  "spacing": 9,
  "vconcat": [
    {
      "width": 772, "height": 160,
      "data": {"name": "queue"},
      "layer": [
        {"mark": {"type": "area", "color": "#d3d3d3", "opacity": 1},
         "encoding": {
           "x": {"field": "t", "type": "quantitative", "scale": {"domain": [-18.25, 383.25], "nice": false, "zero": false}, "axis": {"values": [0,50,100,150,200,250,300,350], "labels": false}, "title": null},
           "y": {"field": "g_lo", "type": "quantitative", "scale": {"domain": [-6.4, 183], "nice": false, "zero": false}, "axis": {"values": [0,50,100,150]}, "title": "Patients in queue"},
           "y2": {"field": "g_hi"}}},
        {"mark": {"type": "area", "color": "#ffb6c1", "opacity": 0.9},
         "encoding": {
           "x": {"field": "t", "type": "quantitative", "title": null},
           "y": {"field": "p_lo", "type": "quantitative", "title": "Patients in queue"},
           "y2": {"field": "p_hi"}}},
        {"transform": [{"fold": ["Total patients", "Infectious patients"], "as": ["series", "value"]}, {"filter": "datum.series == 'Total patients'"}],
         "mark": {"type": "line", "strokeWidth": 3.2},
         "encoding": {
           "x": {"field": "t", "type": "quantitative", "title": null},
           "y": {"field": "value", "type": "quantitative", "title": "Patients in queue"},
           "color": {"field": "series", "type": "nominal", "scale": {"domain": ["Total patients", "Infectious patients"], "range": ["#ff0000", "#f08080"]}, "legend": {"title": null, "orient": "top-right", "offset": 9}},
           "strokeDash": {"field": "series", "type": "nominal", "scale": {"domain": ["Total patients", "Infectious patients"], "range": [[1,0],[13,6]]}, "legend": {"title": null, "orient": "top-right", "offset": 9}}}},
        {"transform": [{"fold": ["Total patients", "Infectious patients"], "as": ["series", "value"]}, {"filter": "datum.series == 'Infectious patients'"}],
         "mark": {"type": "line", "strokeWidth": 3.2},
         "encoding": {
           "x": {"field": "t", "type": "quantitative", "title": null},
           "y": {"field": "value", "type": "quantitative", "title": "Patients in queue"},
           "color": {"field": "series", "type": "nominal"},
           "strokeDash": {"field": "series", "type": "nominal"}}}
      ]
    },
    {
      "width": 772, "height": 160,
      "data": {"name": "icu"},
      "layer": [
        {"mark": {"type": "area", "color": "#d3d3d3", "opacity": 0.45},
         "encoding": {
           "x": {"field": "t", "type": "quantitative", "scale": {"domain": [-18.25, 383.25], "nice": false, "zero": false}, "axis": {"values": [0,50,100,150,200,250,300,350], "labels": false}, "title": null},
           "y": {"field": "g_lo2", "type": "quantitative", "scale": {"domain": [-1.5, 30.6], "nice": false, "zero": false}, "axis": {"values": [0,10,20,30]}, "title": "Patients in ICU"},
           "y2": {"field": "ICU capacity"}}},
        {"mark": {"type": "area", "color": "#d3d3d3", "opacity": 1},
         "encoding": {
           "x": {"field": "t", "type": "quantitative", "title": null},
           "y": {"field": "g_lo", "type": "quantitative", "title": "Patients in ICU"},
           "y2": {"field": "ICU capacity"}}},
        {"mark": {"type": "area", "color": "#98f598", "opacity": 0.95},
         "encoding": {
           "x": {"field": "t", "type": "quantitative", "title": null},
           "y": {"field": "c_lo", "type": "quantitative", "title": "Patients in ICU"},
           "y2": {"field": "c_hi"}}},
        {"transform": [{"fold": ["Total patients", "Infectious patients", "ICU capacity"], "as": ["series", "value"]}, {"filter": "datum.series == 'Total patients'"}],
         "mark": {"type": "line", "strokeWidth": 3.2},
         "encoding": {
           "x": {"field": "t", "type": "quantitative", "title": null},
           "y": {"field": "value", "type": "quantitative", "title": "Patients in ICU"},
           "color": {"field": "series", "type": "nominal", "scale": {"domain": ["Total patients", "Infectious patients", "ICU capacity"], "range": ["#008000", "#90ee90", "#000000"]}, "legend": {"title": null, "orient": "bottom-right", "offset": 9}},
           "strokeDash": {"field": "series", "type": "nominal", "scale": {"domain": ["Total patients", "Infectious patients", "ICU capacity"], "range": [[1,0],[13,6],[3.5,6]]}, "legend": {"title": null, "orient": "bottom-right", "offset": 9}}}},
        {"transform": [{"fold": ["Total patients", "Infectious patients", "ICU capacity"], "as": ["series", "value"]}, {"filter": "datum.series == 'Infectious patients'"}],
         "mark": {"type": "line", "strokeWidth": 3.2},
         "encoding": {
           "x": {"field": "t", "type": "quantitative", "title": null},
           "y": {"field": "value", "type": "quantitative", "title": "Patients in ICU"},
           "color": {"field": "series", "type": "nominal"},
           "strokeDash": {"field": "series", "type": "nominal"}}},
        {"transform": [{"fold": ["Total patients", "Infectious patients", "ICU capacity"], "as": ["series", "value"]}, {"filter": "datum.series == 'ICU capacity'"}],
         "mark": {"type": "line", "strokeWidth": 3.2},
         "encoding": {
           "x": {"field": "t", "type": "quantitative", "title": null},
           "y": {"field": "value", "type": "quantitative", "title": "Patients in ICU"},
           "color": {"field": "series", "type": "nominal"},
           "strokeDash": {"field": "series", "type": "nominal"}}}
      ]
    },
    {
      "width": 772, "height": 160,
      "data": {"name": "aband"},
      "layer": [
        {"mark": {"type": "area", "color": "#d3d3d3", "opacity": 0.35},
         "encoding": {
           "x": {"field": "t", "type": "quantitative", "scale": {"domain": [-18.25, 383.25], "nice": false, "zero": false}, "axis": {"values": [0,50,100,150,200,250,300,350], "labels": false}, "title": null},
           "y": {"field": "go_lo", "type": "quantitative", "scale": {"domain": [-33, 717], "nice": false, "zero": false}, "axis": {"values": [0,200,400,600]}, "title": "Abandonments"},
           "y2": {"field": "go_hi"}}},
        {"mark": {"type": "area", "color": "#c8c8c8", "opacity": 0.45},
         "encoding": {
           "x": {"field": "t", "type": "quantitative", "title": null},
           "y": {"field": "gi_lo", "type": "quantitative", "title": "Abandonments"},
           "y2": {"field": "gi_hi"}}},
        {"mark": {"type": "area", "color": "#add8e6", "opacity": 0.85},
         "encoding": {
           "x": {"field": "t", "type": "quantitative", "title": null},
           "y": {"field": "b_lo", "type": "quantitative", "title": "Abandonments"},
           "y2": {"field": "b_hi"}}},
        {"transform": [{"fold": ["Total patients", "Infectious patients"], "as": ["series", "value"]}, {"filter": "datum.series == 'Total patients'"}],
         "mark": {"type": "line", "strokeWidth": 3.2},
         "encoding": {
           "x": {"field": "t", "type": "quantitative", "title": null},
           "y": {"field": "value", "type": "quantitative", "title": "Abandonments"},
           "color": {"field": "series", "type": "nominal", "scale": {"domain": ["Total patients", "Infectious patients"], "range": ["#000080", "#4169e1"]}, "legend": {"title": null, "orient": "top-left", "offset": 9}},
           "strokeDash": {"field": "series", "type": "nominal", "scale": {"domain": ["Total patients", "Infectious patients"], "range": [[1,0],[13,6]]}, "legend": {"title": null, "orient": "top-left", "offset": 9}}}},
        {"transform": [{"fold": ["Total patients", "Infectious patients"], "as": ["series", "value"]}, {"filter": "datum.series == 'Infectious patients'"}],
         "mark": {"type": "line", "strokeWidth": 3.2},
         "encoding": {
           "x": {"field": "t", "type": "quantitative", "title": null},
           "y": {"field": "value", "type": "quantitative", "title": "Abandonments"},
           "color": {"field": "series", "type": "nominal"},
           "strokeDash": {"field": "series", "type": "nominal"}}}
      ]
    },
    {
      "width": 772, "height": 160,
      "layer": [
        {"data": {"name": "clinrect"},
         "mark": {"type": "rect", "color": "#d3d3d3"},
         "encoding": {
           "x": {"field": "t0", "type": "quantitative", "scale": {"domain": [-18.25, 383.25], "nice": false, "zero": false}, "axis": {"values": [0,50,100,150,200,250,300,350]}, "title": "Time"},
           "x2": {"field": "t1"},
           "y": {"field": "lo", "type": "quantitative", "scale": {"domain": [8.7, 15.3], "nice": false, "zero": false}, "axis": {"values": [10,12,14]}, "title": "Active clinicians"},
           "y2": {"field": "hi"},
           "opacity": {"field": "share", "type": "quantitative", "scale": {"domain": [0, 1], "range": [0, 1]}, "legend": null}}},
        {"data": {"name": "clin"},
         "transform": [{"fold": ["Active clinicians"], "as": ["series", "value"]}],
         "mark": {"type": "line", "strokeWidth": 3.2},
         "encoding": {
           "x": {"field": "t", "type": "quantitative", "title": "Time"},
           "y": {"field": "value", "type": "quantitative", "title": "Active clinicians"},
           "color": {"field": "series", "type": "nominal", "scale": {"domain": ["Active clinicians"], "range": ["#800080"]}, "legend": {"title": null, "orient": "top-right", "offset": 9}}}}
      ]
    }
  ],
  "resolve": {
    "scale": {"color": "independent", "strokeDash": "independent", "opacity": "independent", "x": "independent", "y": "independent"},
    "legend": {"color": "independent", "strokeDash": "independent"}
  },
  "config": {
    "font": "DejaVu Sans",
    "view": {"stroke": "black", "strokeWidth": 1.3},
    "axis": {"domain": false, "grid": false, "tickColor": "black", "tickSize": 6, "tickWidth": 1.2, "labelFontSize": 16.5, "labelColor": "black", "labelFont": "DejaVu Sans", "titleFontSize": 18, "titleFont": "DejaVu Sans", "titleFontWeight": "normal", "titleColor": "black", "labelPadding": 6, "labelFlush": false, "labelOverlap": false},
    "axisY": {"titlePadding": 9, "labelPadding": 10},
    "axisX": {"titleFontSize": 20, "titlePadding": 11},
    "legend": {"labelFontSize": 18, "labelFont": "DejaVu Sans", "labelColor": "black", "symbolType": "M-2,0H2", "symbolSize": 400, "symbolOffset": 10, "symbolStrokeWidth": 3.2, "strokeColor": "#cccccc", "fillColor": "rgba(255,255,255,0.8)", "cornerRadius": 4, "padding": 6, "rowPadding": 8, "labelOffset": 22, "labelLimit": 0}
  }
}
